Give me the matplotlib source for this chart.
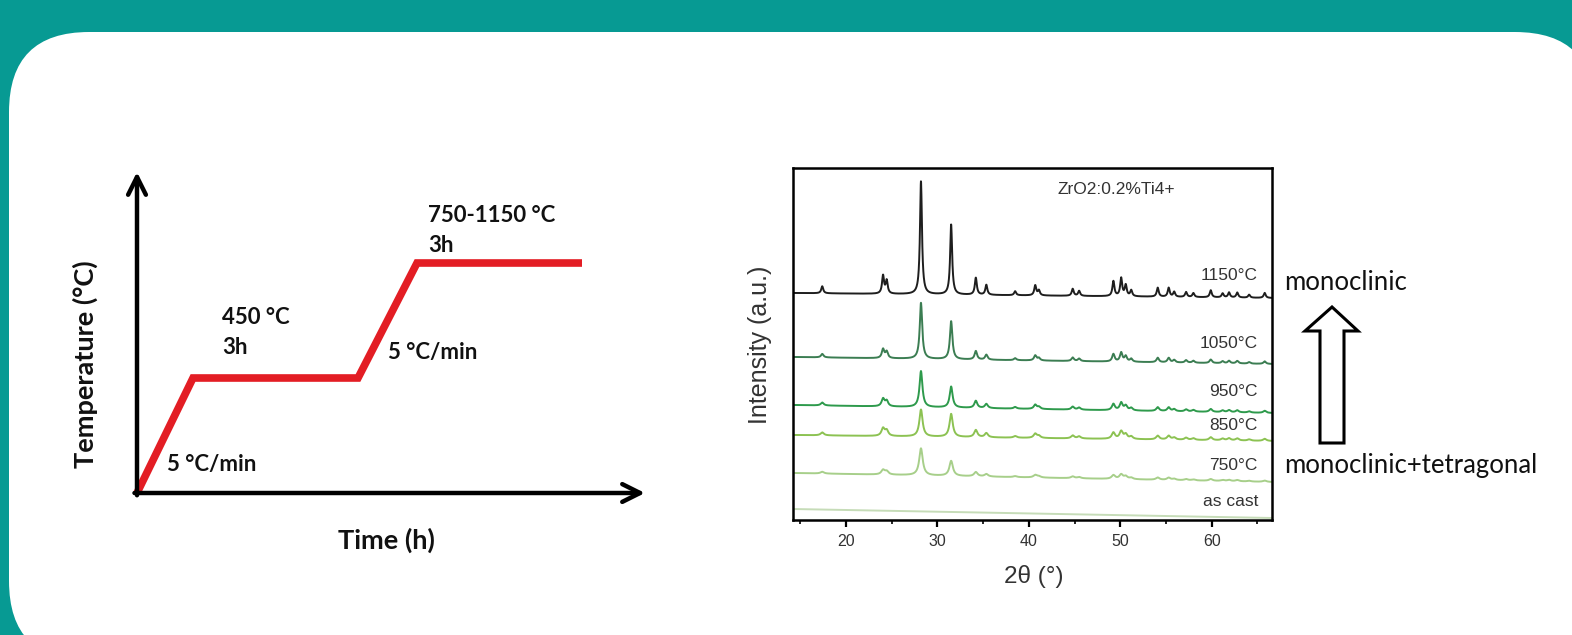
import numpy as np
import matplotlib
matplotlib.use("Agg")
import matplotlib.pyplot as plt
from matplotlib.patches import FancyBboxPatch, Polygon
from matplotlib.transforms import IdentityTransform

W, H = 1572, 635

# heating schedule (schematic units)
sched_time = [0, 1.12, 4.42, 5.6, 8.9]
sched_level = [0, 1.0, 1.0, 2.0, 2.0]

# XRD: peak positions (2theta) and heights of the 1150 C pattern
peak_pos = [17.4, 24.05, 24.45, 28.2, 31.5, 34.2, 35.35, 38.5, 40.7, 41.1, 44.8, 45.5,
            49.25, 50.1, 50.6, 51.2, 54.1, 55.3, 55.9, 57.2, 58.0, 59.9, 61.2, 61.9,
            62.8, 64.1, 65.8]
peak_h_1150 = [7, 18, 13, 113, 70, 17, 10, 4, 10, 5, 7, 5,
               15, 18, 11, 6, 9, 9, 5, 5, 4, 7, 4, 5,
               5, 3, 5]

samples = ["1150°C", "1050°C", "950°C", "850°C", "750°C", "as cast"]
base_left = [227, 163, 115, 85, 47, 11]
base_right = [222, 156, 107, 79, 38, 2]
h_28 = [113, 56, 36, 27, 27, 0]
h_31 = [70, 38, 21, 23, 15, 0]
minor_scale = [1.0, 0.5, 0.42, 0.42, 0.25, 0.0]
peak_width = [0.13, 0.16, 0.19, 0.21, 0.23, 0.3]
colors = ["#1e1e1e", "#3b7d52", "#2e9a4c", "#8cc252", "#a7cf8a", "#c6dcb8"]
label_y = [275, 344, 392, 425, 465, 502]

teal = "#079a93"


def fx(x):
    return x / W


def fy(y):
    return 1 - y / H


fig = plt.figure(figsize=(W / 100, H / 100), dpi=100)
fig.patch.set_facecolor(teal)

card = FancyBboxPatch((9, H - 661), 1586, 629, boxstyle="round,pad=0,rounding_size=80",
                      transform=IdentityTransform(), fc="white", ec="none", zorder=0)
fig.add_artist(card)

# ---- left panel: heating profile ----
ax1 = fig.add_axes([fx(137), fy(493), fx(645 - 137), (493 - 172) / H])
ax1.set_xlim(0, 508 / 50)
ax1.set_ylim(0, 321 / 115)
ax1.axis("off")
ax1.patch.set_alpha(0)
ax1.plot(sched_time, sched_level, color="#e31d24", lw=5.5, solid_joinstyle="miter",
         solid_capstyle="butt", clip_on=False, zorder=3)
arr = dict(arrowstyle="->", lw=3.2, color="black", mutation_scale=32,
           shrinkA=0, shrinkB=0)
ax1.annotate("", xy=(1, 0), xytext=(-0.005, 0), xycoords="axes fraction", arrowprops=arr)
ax1.annotate("", xy=(0, 1), xytext=(0, -0.007), xycoords="axes fraction", arrowprops=arr)

lf = dict(family="Lato", weight="bold", color="#111111", va="center")
fig.text(fx(428), fy(215), "750-1150 °C", fontsize=16, **lf)
fig.text(fx(428), fy(245), "3h", fontsize=16, **lf)
fig.text(fx(222), fy(318), "450 °C", fontsize=16, **lf)
fig.text(fx(222), fy(347), "3h", fontsize=16, **lf)
fig.text(fx(388), fy(352), "5 °C/min", fontsize=16, **lf)
fig.text(fx(167), fy(464), "5 °C/min", fontsize=16, **lf)
fig.text(fx(85), fy(364), "Temperature (°C)", rotation=90, ha="center", fontsize=19.5, **lf)
fig.text(fx(386), fy(540), "Time (h)", ha="center", fontsize=19.5, **lf)

# ---- right panel: XRD ----
ax2 = fig.add_axes([fx(793), fy(520), fx(1272 - 793), (520 - 168) / H])
ax2.set_xlim(14.2, 66.6)
ax2.set_ylim(0, 352)
tt = np.linspace(14.2, 66.6, 3000)
xf = dict(family="Liberation Sans", color="#333333")
for i, name in enumerate(samples):
    y = base_left[i] + (base_right[i] - base_left[i]) * (tt - tt[0]) / (tt[-1] - tt[0])
    for p, h in zip(peak_pos, peak_h_1150):
        if p == 28.2:
            a = h_28[i]
        elif p == 31.5:
            a = h_31[i]
        else:
            a = h * minor_scale[i]
        w = peak_width[i]
        y = y + a * w ** 2 / ((tt - p) ** 2 + w ** 2)
    ax2.plot(tt, y, color=colors[i], lw=1.4)
    fig.text(fx(1258), fy(label_y[i]), name, ha="right", va="center", fontsize=12.5, **xf)

ax2.set_xticks([20, 30, 40, 50, 60])
ax2.set_xticks([15, 25, 35, 45, 55, 65], minor=True)
ax2.set_yticks([])
ax2.tick_params(axis="x", which="major", direction="out", length=5, width=1.6,
                labelsize=11.5, labelcolor="#333333", pad=5)
ax2.tick_params(axis="x", which="minor", direction="out", length=3, width=1.2)
for lab in ax2.get_xticklabels():
    lab.set_family("Liberation Sans")
for s in ax2.spines.values():
    s.set_linewidth(1.8)

fig.text(fx(1116), fy(190), "ZrO2:0.2%Ti4+", ha="center", va="center", fontsize=12.5, **xf)
fig.text(fx(760), fy(345), "Intensity (a.u.)", rotation=90, ha="center", va="center",
         fontsize=18, **xf)
fig.text(fx(1034), fy(577), "2θ (°)", ha="center", va="center", fontsize=17.5, **xf)

mf = dict(family="Lato", fontsize=18.5, color="#111111", va="center")
fig.text(fx(1284), fy(282), "monoclinic", **mf)
fig.text(fx(1284), fy(465), "monoclinic+tetragonal", **mf)

arrow_px = [(1320, 443), (1344, 443), (1344, 331), (1358, 331), (1332, 307),
            (1305, 331), (1320, 331)]
fig.add_artist(Polygon([(x, H - y) for x, y in arrow_px], closed=True,
                       transform=IdentityTransform(), fc="white", ec="black", lw=2.2))

fig.savefig("out.png", dpi=100, facecolor=teal)
